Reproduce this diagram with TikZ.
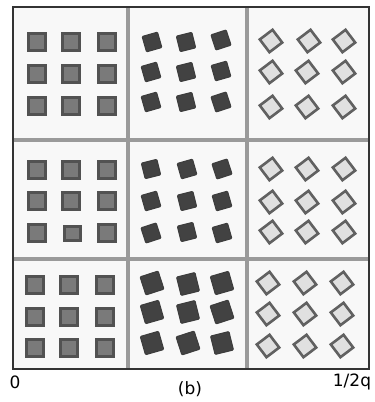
\documentclass[tikz,border=0pt]{standalone}
\usepackage{fontspec}
\setmainfont{DejaVu Sans}
\definecolor{cellbg}{HTML}{F8F8F8}
\definecolor{gridln}{HTML}{9A9A9A}
\definecolor{framln}{HTML}{333333}
\begin{document}
\begin{tikzpicture}[x=1pt,y=-1pt,every node/.style={font=\fontsize{17}{20}\selectfont},
    sq/.style={fill=black!52,draw=black!68,line width=2.6pt},
    dk/.style={fill=black!74,draw=black!76,line width=1pt,rounded corners=1pt},
    dm/.style={fill=black!12,draw=black!62,line width=2.6pt}]
    \useasboundingbox (0,0) rectangle (375,402);
    \fill[cellbg] (13,7) rectangle (369,369);
    % grid
    \draw[gridln,line width=4pt] (128,7) -- (128,369);
    \draw[gridln,line width=4pt] (247,7) -- (247,369);
    \draw[gridln,line width=4pt] (13,140) -- (369,140);
    \draw[gridln,line width=4pt] (13,259) -- (369,259);
    \draw[framln,line width=2.2pt] (13,7) rectangle (369,369);
    % left column: plain squares
    \foreach \x/\y in {37/42,71/42,107/42,37/74,71/74,107/74,37/106,71/106,107/106,
                       37/170,71/170,107/170,37/201,71/201,107/201,37/233,107/233,
                       35/285,69/285,105/285,35/317,69/317,105/317,35/348,69/348,105/348}
        \draw[sq] (\x-8.5,\y-8.5) rectangle (\x+8.5,\y+8.5);
    \draw[sq] (64.5,226.5) rectangle (80.5,240.5);
    % middle column: tilted dark squares
    \foreach \x/\y/\a in {152/42/16,186/42/14,221/40/18,151/72/16,186/72/14,221/71/16,
                          151/102/16,186/102/14,221/102/18,
                          151/169/14,187/169/16,222/169/18,151/201/16,187/201/14,222/201/16,
                          151/233/18,187/232/14,222/233/16}
        \draw[dk,shift={(\x,\y)},rotate=\a] (-8,-8) rectangle (8,8);
    \foreach \x/\y/\a in {152/283/18,188/284/14,222/283/16,152/312/16,188/312/14,222/312/18,
                          152/343/16,188/343/18,222/343/14}
        \draw[dk,shift={(\x,\y)},rotate=\a] (-9.5,-9.5) rectangle (9.5,9.5);
    % right column: diamonds
    \foreach \x/\y in {271/41,309/41,344/41,271/72,307/72,344/72,271/107,307/107,344/107,
                       271/169,307/169,344/169,271/202,307/202,344/202,271/232,307/232,344/232,
                       268/283,305/283,342/283,268/314,305/314,342/314,268/346,305/346,342/346}
        \draw[dm,shift={(\x,\y)},rotate=37] (-8,-8) rectangle (8,8);
    % labels
    \node (zero) at (15,382) {0};
    \node (cap) at (190,389) {(b)};
    \node (half) at (352,382) {1/2q};
\end{tikzpicture}
\end{document}
